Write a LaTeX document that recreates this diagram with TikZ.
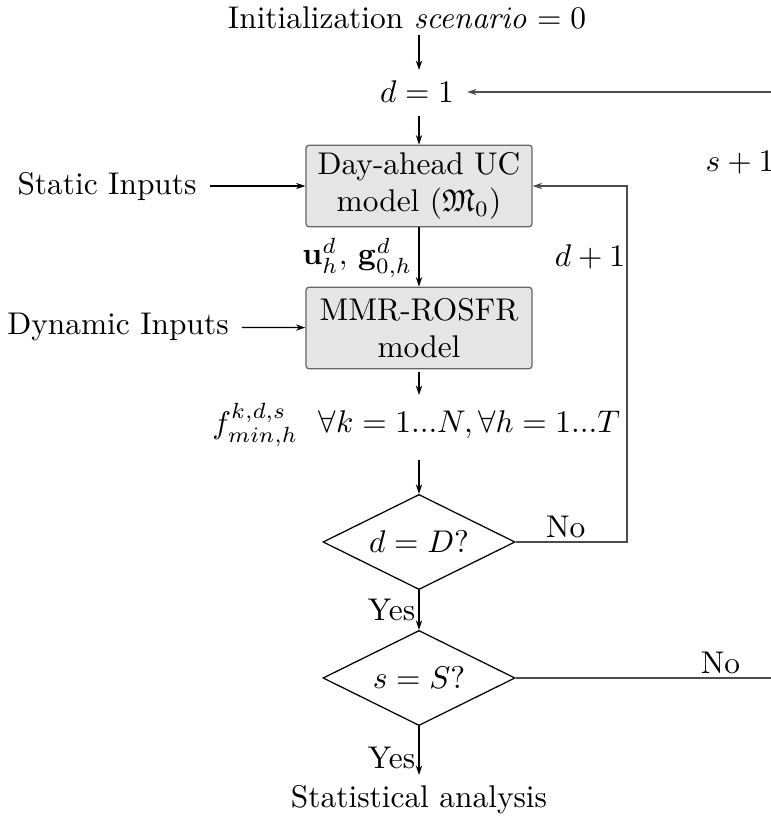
\documentclass[tikz,border=0pt]{standalone}
\usepackage{amsmath,amssymb}
\usetikzlibrary{shapes.geometric,arrows.meta}
\begin{document}
\begin{tikzpicture}[x=0.3185pt,y=-0.3185pt,
  box/.style={draw=black!60,fill=black!10,rounded corners=1pt,minimum width=72pt,minimum height=26pt,inner sep=0pt,align=center},
  dec/.style={draw,shape=diamond,aspect=2,minimum width=61.2pt,minimum height=30.3pt,inner sep=0pt},
  arr/.style={-{Stealth[length=3pt,width=2pt]},line width=0.4pt},
  loop/.style={draw=black!70,line width=0.5pt},
  lbl/.style={inner sep=1pt}]
\useasboundingbox (0,0) rectangle (771,823);
\node[lbl] (init) at (407,18) {Initialization $\mathit{scenario}=0$};
\node[lbl,inner sep=4pt] (d1) at (417,92) {$d=1$};
\node[box] (uc) at (419,186) {Day-ahead UC\\model ($\mathfrak{M}_0$)};
\node[box] (mmr) at (419,328) {MMR-ROSFR\\model};
\node[lbl,inner sep=4pt] (static) at (107,186) {Static Inputs};
\node[lbl,inner sep=4pt] (dyn) at (118,327) {Dynamic Inputs};
\node[lbl,anchor=east] (ug) at (416,258) {$\mathbf{u}_h^d,\,\mathbf{g}_{0,h}^d$};
\node[lbl] (dp1) at (590,257) {$d+1$};
\node[lbl,anchor=east] (f) at (302,425) {$f_{min,h}^{k,d,s}$};
\node[lbl,anchor=west] (fa) at (315,425) {$\forall k=1...N, \forall h=1...T$};
\coordinate (fin) at (419,395);
\coordinate (fout) at (419,460);
\node[dec] (dD) at (419,542) {$d=D?$};
\node[dec] (sS) at (419,678) {$s=S?$};
\node[lbl] (stat) at (419,800) {Statistical analysis};
\coordinate (rt) at (800,92);
\coordinate (rb) at (800,678);
\coordinate (lp) at (627,542);
\node[lbl] (s1) at (740,163) {$s+1$};

\draw[arr] (init.south -| uc.north) ++(0,2) -- (419,70);
\draw[arr] (d1.south -| uc.north) -- (uc.north);
\draw[arr] (static) -- (uc);
\draw[arr] (dyn) -- (mmr);
\draw[arr] (uc) -- (mmr);
\draw[arr] (mmr.south) ++(0,3) -- (fin);
\draw[arr] (fout) -- (dD.north);
\draw[arr] (dD.south) -- node[left,lbl] {Yes} (sS.north);
\draw[arr] (sS.south) -- node[left,lbl,pos=0.65] {Yes} (419,775);
\draw[loop,arr] (dD.east) -- node[above,lbl,pos=0.45] {No} (lp) |- (uc.east);
\draw[loop] (sS.east) -- node[above,lbl,pos=0.72] {No} (rb) -- (rt);
\draw[loop,arr] (rt) -- (d1.east);
\end{tikzpicture}
\end{document}
